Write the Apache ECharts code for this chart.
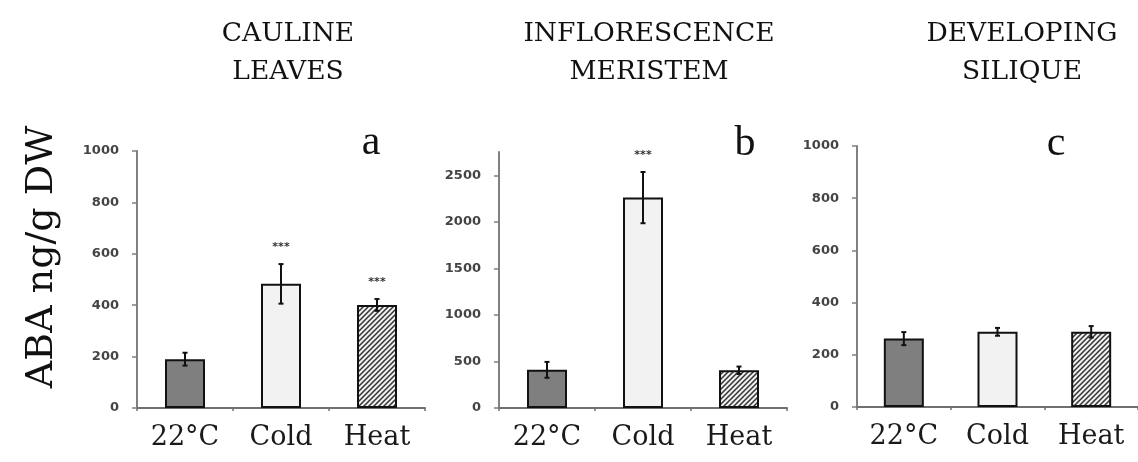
<!DOCTYPE html>
<html>
<head>
<meta charset="utf-8">
<script src="https://cdn.jsdelivr.net/npm/echarts@6/dist/echarts.min.js"></script>
<style>html,body{margin:0;padding:0;background:#fff}#c{width:1138px;height:462px}</style>
</head>
<body>
<div id="c"></div>
<script>
// ---- data ----
var categories = ['22°C', 'Cold', 'Heat'];
var panelTitles = ['CAULINE\nLEAVES', 'INFLORESCENCE\nMERISTEM', 'DEVELOPING\nSILIQUE'];
var panelLetters = ['a', 'b', 'c'];
var caulineMeans = [190, 483, 401];
var caulineErr = [25, 77, 23];
var caulineSig = ['', '***', '***'];
var inflorMeans = [410, 2260, 405];
var inflorErr = [85, 275, 40];
var inflorSig = ['', '***', ''];
var siliqueMeans = [262, 288, 288];
var siliqueErr = [25, 15, 22];
var siliqueSig = ['', '', ''];
var ticksA = [0, 200, 400, 600, 800, 1000];
var ticksB = [0, 500, 1000, 1500, 2000, 2500];
var ticksC = [0, 200, 400, 600, 800, 1000];
var axisMax = [1000, 2750, 1000];

// hatch pattern
var pc = document.createElement('canvas');
pc.width = 5; pc.height = 5;
var ctx = pc.getContext('2d');
ctx.fillStyle = '#f0f0f0'; ctx.fillRect(0, 0, 5, 5);
ctx.strokeStyle = '#333'; ctx.lineWidth = 1.5;
ctx.beginPath();
ctx.moveTo(0, 5); ctx.lineTo(5, 0);
ctx.moveTo(-1, 1); ctx.lineTo(1, -1);
ctx.moveTo(4, 6); ctx.lineTo(6, 4);
ctx.stroke();
var fills = ['#7f7f7f', '#f2f2f2', {image: pc, repeat: 'repeat'}];

var panels = [
  {means: caulineMeans, err: caulineErr, sig: caulineSig, ticks: ticksA, max: axisMax[0], grid: {left: 137, top: 151, width: 288, height: 257}},
  {means: inflorMeans, err: inflorErr, sig: inflorSig, ticks: ticksB, max: axisMax[1], grid: {left: 499, top: 152, width: 288, height: 256}},
  {means: siliqueMeans, err: siliqueErr, sig: siliqueSig, ticks: ticksC, max: axisMax[2], grid: {left: 857, top: 146, width: 288, height: 261}}
];

var grids = [], xAxes = [], yAxes = [], series = [];
panels.forEach(function (p, i) {
  grids.push(p.grid);
  xAxes.push({
    type: 'category', gridIndex: i, data: categories,
    axisLine: {lineStyle: {color: '#707070', width: 2}},
    axisTick: {show: true, length: 3, lineStyle: {color: '#707070', width: 1.5}},
    axisLabel: {fontFamily: 'DejaVu Serif', fontSize: 27, color: '#1a1a1a', margin: 16}
  });
  yAxes.push({
    type: 'value', gridIndex: i, min: 0, max: p.max,
    splitLine: {show: false},
    axisLine: {show: true, lineStyle: {color: '#808080', width: 2}},
    axisTick: {show: true, length: 5, customValues: p.ticks, lineStyle: {color: '#808080', width: 1.5}},
    axisLabel: {customValues: p.ticks, formatter: function (v) { return String(v); },
      fontFamily: 'DejaVu Sans', fontWeight: 'bold', fontSize: 13, color: '#444', margin: 18}
  });
  series.push({
    type: 'bar', xAxisIndex: i, yAxisIndex: i, barWidth: 40,
    data: p.means.map(function (v, k) {
      return {value: v, itemStyle: {color: fills[k], borderColor: '#111', borderWidth: 2}};
    }),
    z: 2
  });
  series.push({
    type: 'custom', xAxisIndex: i, yAxisIndex: i, z: 5,
    data: p.means.map(function (v, k) { return [k, v - p.err[k], v + p.err[k]]; }),
    renderItem: function (params, api) {
      var k = api.value(0);
      var lo = api.coord([k, api.value(1)]);
      var hi = api.coord([k, api.value(2)]);
      var x = lo[0];
      var st = {stroke: '#111', lineWidth: 2};
      var children = [
        {type: 'line', shape: {x1: x, y1: lo[1], x2: x, y2: hi[1]}, style: st},
        {type: 'line', shape: {x1: x - 2.5, y1: lo[1], x2: x + 2.5, y2: lo[1]}, style: st},
        {type: 'line', shape: {x1: x - 2.5, y1: hi[1], x2: x + 2.5, y2: hi[1]}, style: st}
      ];
      var s = p.sig[params.dataIndex];
      if (s) {
        children.push({type: 'text', style: {text: s, x: x, y: hi[1] - 17, align: 'center', verticalAlign: 'middle',
          font: 'bold 11px DejaVu Sans', fill: '#333'}});
      }
      return {type: 'group', children: children};
    }
  });
});

var titleCenters = [283, 644, 1017];
var letterPos = [[371, 143], [745, 144], [1056, 144]];
var titles = panelTitles.map(function (t, i) {
  return {text: t, left: titleCenters[i], top: 10, textAlign: 'center',
    textStyle: {fontFamily: 'DejaVu Serif', fontWeight: 'normal', fontSize: 26.5, lineHeight: 38, color: '#111'}};
});

var graphics = panelLetters.map(function (l, i) {
  return {type: 'text', x: letterPos[i][0], y: letterPos[i][1],
    style: {text: l, font: '42px Liberation Serif', fill: '#111', align: 'center', verticalAlign: 'middle'}};
});
graphics.push({type: 'text', x: 42, y: 257, rotation: Math.PI / 2,
  style: {text: 'ABA ng/g DW', font: '38px DejaVu Serif', fill: '#111', align: 'center', verticalAlign: 'middle'}});

var chart = echarts.init(document.getElementById('c'));
chart.setOption({
  animation: false,
  backgroundColor: '#fff',
  title: titles,
  grid: grids,
  xAxis: xAxes,
  yAxis: yAxes,
  series: series,
  graphic: graphics
});
</script>
</body>
</html>
